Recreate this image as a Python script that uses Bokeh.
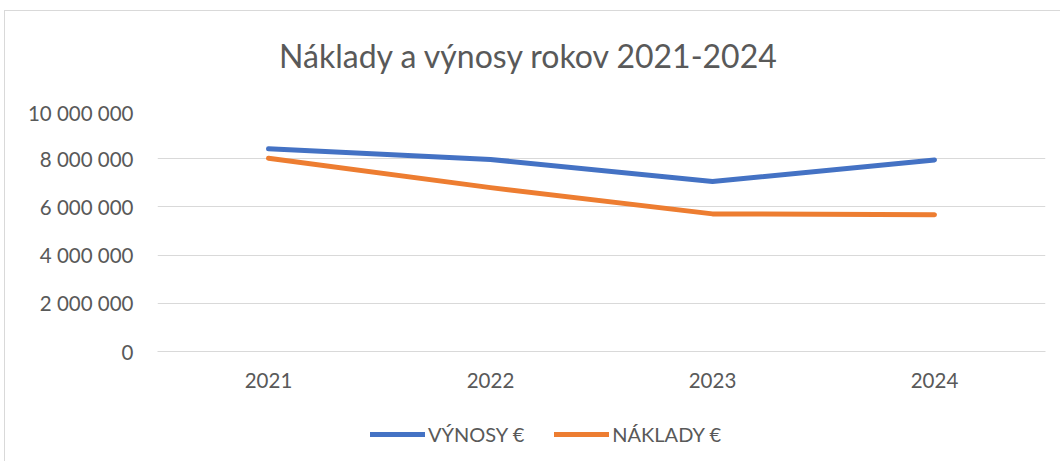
from bokeh.plotting import figure
from bokeh.models import (FactorRange, Range1d, CustomJSTickFormatter, Legend, LegendItem, Label, Column)
from bokeh.embed import file_html
from bokeh.resources import INLINE

years = ["2021", "2022", "2023", "2024"]
vynosy = [8410000, 7970000, 7050000, 7950000]
naklady = [8020000, 6800000, 5710000, 5670000]
y_ticks = [0, 2000000, 4000000, 6000000, 8000000, 10000000]
series_names = ["VÝNOSY €", "NÁKLADY €"]
series_colors = ["#4472C4", "#ED7D31"]
title_text = "Náklady a výnosy rokov 2021-2024"

FONT = "Lato"
TXT = "#595959"


def strip(h):
    f = figure(x_range=Range1d(0, 1), y_range=Range1d(0, 1), width=1055, height=h,
               min_border=0, output_backend="svg", toolbar_location=None)
    f.outline_line_color = None
    f.axis.visible = False
    f.grid.visible = False
    f.background_fill_color = "white"
    f.border_fill_color = "white"
    return f


# title strip
t = strip(89)
t.add_layout(Label(x=372, y=45, x_units="screen", y_units="screen", text=title_text,
                   text_font=FONT, text_font_size="32px", text_color=TXT,
                   text_align="center", text_baseline="middle"))

# main chart
p = figure(x_range=FactorRange(*years, range_padding=0), y_range=Range1d(0, 10000000),
           frame_width=888, frame_height=241,
           min_border_left=152, min_border_right=15, min_border_top=10, min_border_bottom=60,
           output_backend="svg", toolbar_location=None)
p.outline_line_color = None
p.background_fill_color = "white"
p.border_fill_color = "white"

p.line(years, vynosy, line_color=series_colors[0], line_width=5, line_cap="round", line_join="round")
p.line(years, naklady, line_color=series_colors[1], line_width=5, line_cap="round", line_join="round")

p.yaxis.ticker = y_ticks
p.yaxis.formatter = CustomJSTickFormatter(code='return tick.toFixed(0).replace(/\\B(?=(\\d{3})+(?!\\d))/g, " ");')
p.yaxis.axis_line_color = None
p.yaxis.major_tick_line_color = None
p.yaxis.minor_tick_line_color = None
p.yaxis.major_label_standoff = 18
p.yaxis.major_label_text_font = FONT
p.yaxis.major_label_text_font_size = "20.5px"
p.yaxis.major_label_text_color = TXT

p.xaxis.axis_line_color = "#D9D9D9"
p.xaxis.major_tick_line_color = None
p.xaxis.major_label_standoff = 15
p.xaxis.major_label_text_font = FONT
p.xaxis.major_label_text_font_size = "20.5px"
p.xaxis.major_label_text_color = TXT

p.xgrid.grid_line_color = None
p.ygrid.grid_line_color = "#D9D9D9"
p.ygrid.grid_line_width = 1

# legend strip
q = strip(50)
items = []
for name, col in zip(series_names, series_colors):
    r = q.line([2, 3], [2, 2], line_color=col, line_width=5, line_cap="round")
    items.append(LegendItem(label=name, renderers=[r]))
legend = Legend(items=items, orientation="horizontal", location=(213, 15), padding=0, margin=0,
                glyph_width=55, glyph_height=20, label_standoff=3, spacing=30,
                label_text_font=FONT, label_text_font_size="20px", label_text_color=TXT,
                border_line_color=None, background_fill_alpha=0)
q.add_layout(legend)

layout = Column(children=[t, p, q], spacing=0,
                styles={"border-left": "1px solid #D9D9D9", "border-top": "1px solid #D9D9D9",
                        "margin-left": "4px", "margin-top": "10px"})

open("out.html", "w").write(file_html(layout, INLINE))
